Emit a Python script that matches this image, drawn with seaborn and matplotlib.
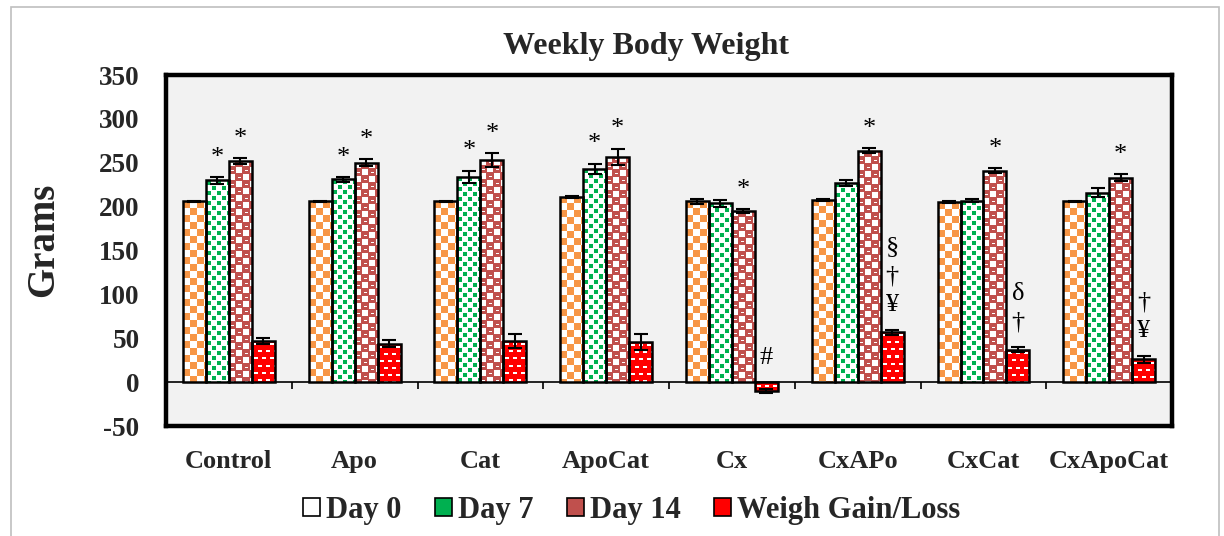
import numpy as np
import pandas as pd
import matplotlib
matplotlib.use("Agg")
import matplotlib.pyplot as plt
from matplotlib.patches import Patch, Rectangle
from matplotlib.colors import to_rgb
import seaborn as sns

groups = ["Control", "Apo", "Cat", "ApoCat", "Cx", "CxAPo", "CxCat", "CxApoCat"]
series = ["Day 0", "Day 7", "Day 14", "Weigh Gain/Loss"]

day0 = [206, 206, 206, 211, 206, 208, 205, 206]
day7 = [230, 231, 234, 243, 204, 227, 207, 216]
day14 = [252, 250, 253, 257, 195, 264, 241, 233]
gain = [47, 44, 47, 46, -10, 57, 37, 26]

day0_err = [1, 1, 1, 1, 3, 1, 1, 1]
day7_err = [4, 3, 7, 6, 4, 3, 2, 5]
day14_err = [3, 4, 8, 9, 2, 3, 3, 4]
gain_err = [3, 4, 8, 9, 2, 3, 3, 4]

# significance marks, bottom to top
marks_day7 = ["*", "*", "*", "*", "", "", "", ""]
marks_day14 = ["*", "*", "*", "*", "*", "*", "*", "*"]
marks_gain = ["", "", "", "", "#", "¥†§", "†δ", "¥†"]

colors = ["#F79646", "#00B050", "#C0504D", "#FF0000"]

values = [day0, day7, day14, gain]
errors = [day0_err, day7_err, day14_err, gain_err]

df = pd.DataFrame({
    "group": np.tile(groups, len(series)),
    "series": np.repeat(series, len(groups)),
    "grams": np.concatenate(values),
})

sns.set_style("white")
plt.rcParams["font.family"] = ["Liberation Serif", "DejaVu Serif"]
plt.rcParams["axes.unicode_minus"] = False


def texture(kind, h, w):
    yy, xx = np.mgrid[0:h, 0:w]
    img = np.ones((h, w, 3))
    if kind == 0:
        m = ((xx // 7 + yy // 7) % 2) == 0
        img[m] = to_rgb(colors[0])
    elif kind == 1:
        cx, cy = xx % 10, yy % 10
        m = ((cx >= 1) & (cx <= 4) & (cy >= 1) & (cy <= 4)) | \
            ((cx >= 6) & (cx <= 9) & (cy >= 6) & (cy <= 9))
        img[m] = to_rgb(colors[1])
    elif kind == 2:
        img[:] = to_rgb(colors[2])
        cx, cy = xx % 14, yy % 14
        white = ((cx < 6) & (cy < 6)) | ((cx >= 7) & (cx < 13) & (cy >= 7) & (cy < 13))
        dash = ((cy == 3) & (cx >= 9) & (cx <= 11)) | ((cy == 10) & (cx >= 2) & (cx <= 4))
        img[white | dash] = 1.0
    else:
        img[:] = to_rgb(colors[3])
        off = ((yy // 7) % 2) * 4
        cxx = (xx + off) % 8
        r = yy % 7
        m = ((r == 3) | (r == 4)) & (cxx >= 2) & (cxx <= 5)
        img[m] = 1.0
    return img


fig = plt.figure(figsize=(12.24, 5.36), dpi=100)
fig.patch.set_facecolor("white")
ax = fig.add_axes([0.1356, 0.205, 0.822, 0.655])
ax.set_facecolor("#F2F2F2")

sns.barplot(data=df, x="group", y="grams", hue="series", palette=colors,
            width=0.73, errorbar=None, edgecolor="black", linewidth=1.8,
            legend=False, ax=ax)

ax.set_xlim(-0.5, len(groups) - 0.5)
ax.set_ylim(-50, 350)
ax.set_yticks(np.arange(-50, 351, 50))

bar_groups = list(ax.containers)

# paint textures into the bars
for k, cont in enumerate(bar_groups):
    for bar in cont:
        bb = bar.get_bbox()
        x0, x1 = sorted([bb.x0, bb.x1])
        y0, y1 = sorted([bb.y0, bb.y1])
        p0 = ax.transData.transform((x0, y0))
        p1 = ax.transData.transform((x1, y1))
        w = max(int(round(p1[0] - p0[0])), 1)
        h = max(int(round(p1[1] - p0[1])), 1)
        img = ax.imshow(texture(k, h, w), extent=(x0, x1, y0, y1),
                        interpolation="nearest", aspect="auto", zorder=2)
        img.set_clip_path(bar)
        bar.set_facecolor("none")
        bar.set_zorder(3)

# error bars and significance marks
for k, cont in enumerate(bar_groups):
    xs = [b.get_x() + b.get_width() / 2 for b in cont]
    ax.errorbar(xs, values[k], yerr=errors[k], fmt="none", ecolor="black",
                elinewidth=1.5, capsize=5, capthick=1.5, zorder=4)

for k, marks in [(1, marks_day7), (2, marks_day14), (3, marks_gain)]:
    cont = bar_groups[k]
    for i, b in enumerate(cont):
        top = max(values[k][i], 0) + (errors[k][i] if values[k][i] > 0 else 0)
        for j, ch in enumerate(marks[i]):
            if ch == "*":
                y = top + 22
            else:
                y = top + 28 + j * 33
            ax.text(b.get_x() + b.get_width() / 2, y, ch, ha="center", va="center",
                    fontsize=19, color="black", zorder=5)

# zero line with group separators
ax.axhline(0, color="black", lw=1.2, zorder=1.5)
bounds = np.arange(len(groups) - 1) + 0.5
ax.vlines(bounds, -8, 0, color="black", lw=1.2, zorder=1.5)

for s in ax.spines.values():
    s.set_linewidth(3.2)
    s.set_color("black")

ax.tick_params(axis="both", length=0)
ax.tick_params(axis="x", pad=17, labelsize=19)
ax.tick_params(axis="y", pad=19, labelsize=19.5)
for lab in ax.get_xticklabels() + ax.get_yticklabels():
    lab.set_fontweight("bold")
ax.set_xlabel("")
ax.set_ylabel("")

fig.text(44 / 1224, 1 - 240 / 536, "Grams", rotation=90, ha="center", va="center",
         fontsize=28, fontweight="bold")
fig.text(0.528, 0.913, "Weekly Body Weight", ha="center", va="center",
         fontsize=23, fontweight="bold")

handles = [Patch(facecolor=c, edgecolor="black", linewidth=1.2) for c in colors]
handles[0] = Patch(facecolor="white", edgecolor="black", linewidth=1.2)
fig.legend(handles, series, loc="center", bbox_to_anchor=(0.516, 0.048), ncol=4,
           frameon=False, prop={"size": 22, "weight": "bold"},
           handlelength=0.55, handleheight=0.55, handletextpad=0.2, columnspacing=1.1)

fig.add_artist(Rectangle((0.009, -0.01), 0.987, 0.997, transform=fig.transFigure,
                         fill=False, edgecolor="#BFBFBF", lw=1.2))

fig.savefig("out.png", dpi=100)
